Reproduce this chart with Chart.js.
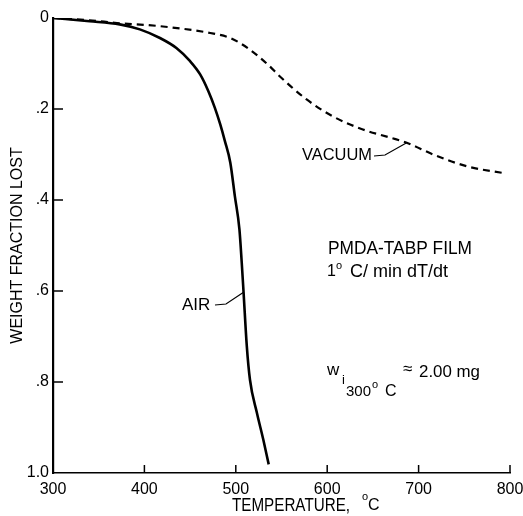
<!DOCTYPE html>
<html>
<head>
<meta charset="utf-8">
<script src="https://cdn.jsdelivr.net/npm/chart.js@4.4.1/dist/chart.umd.min.js"></script>
<style>
  html, body { margin: 0; padding: 0; background: #fff; }
  #wrap { width: 523px; height: 516px; }
</style>
</head>
<body>
<div id="wrap"><canvas id="tga"></canvas></div>
<script>
// TGA of PMDA-TABP film: weight fraction lost vs temperature, air vs vacuum.
const FONT = '"Liberation Sans", Arial, sans-serif';

const airTemp = [300, 340, 373, 395, 417, 435, 450, 461, 470, 477, 483, 488, 494, 499, 504, 506.5, 508.5, 512, 515.5, 523, 530, 536];
const airLoss = [0, 0.007, 0.014, 0.025, 0.044, 0.066, 0.095, 0.124, 0.161, 0.197, 0.234, 0.27, 0.318, 0.392, 0.465, 0.538, 0.603, 0.72, 0.795, 0.867, 0.926, 0.981];

const vacTemp = [300, 340, 370, 417, 472, 494, 515, 537, 548, 577.5, 606, 639, 669, 687, 716, 753, 796];
const vacLoss = [0, 0.005, 0.011, 0.018, 0.033, 0.044, 0.069, 0.106, 0.128, 0.179, 0.216, 0.245, 0.263, 0.274, 0.3, 0.326, 0.342];

const xTicks = [300, 400, 500, 600, 700, 800];
const yTicks = [0, 0.2, 0.4, 0.6, 0.8, 1.0];

const toPoints = (xs, ys) => xs.map((x, i) => ({ x, y: ys[i] }));

// inward tick marks (the axes have their ticks on the plot side)
const innerTicks = {
  id: "innerTicks",
  afterDraw(chart) {
    const { ctx, chartArea: a, scales: { x, y } } = chart;
    ctx.save();
    ctx.strokeStyle = "#000";
    ctx.lineWidth = 1.5;
    for (const v of yTicks.slice(1, -1)) {
      const py = y.getPixelForValue(v);
      ctx.beginPath(); ctx.moveTo(a.left, py); ctx.lineTo(a.left + 10, py); ctx.stroke();
    }
    for (const v of xTicks.slice(1)) {
      const px = x.getPixelForValue(v);
      ctx.beginPath(); ctx.moveTo(px, a.bottom); ctx.lineTo(px, a.bottom - 8); ctx.stroke();
    }
    ctx.restore();
  },
};

// maxW squeezes the longer strings to the narrow typewriter look
function txt(ctx, s, x, y, size, maxW) {
  ctx.font = `${size}px ${FONT}`;
  if (maxW) ctx.fillText(s, x, y, maxW);
  else ctx.fillText(s, x, y);
}

// labels, leaders and the film note
const notes = {
  id: "notes",
  afterDraw(chart) {
    const { ctx, scales: { x, y } } = chart;
    const X = (v) => x.getPixelForValue(v);
    const Y = (v) => y.getPixelForValue(v);
    ctx.save();
    ctx.fillStyle = "#000";
    ctx.strokeStyle = "#000";
    ctx.lineWidth = 1.2;
    ctx.textBaseline = "middle";
    ctx.textAlign = "left";

    txt(ctx, "AIR", 182, 305, 17, 30);
    ctx.beginPath(); ctx.moveTo(215, 305); ctx.lineTo(226, 304); ctx.lineTo(X(508.5), Y(0.603)); ctx.stroke();

    txt(ctx, "VACUUM", 302, 155, 17, 70);
    ctx.beginPath(); ctx.moveTo(374, 156); ctx.lineTo(385, 155); ctx.lineTo(X(687), Y(0.274)); ctx.stroke();

    txt(ctx, "PMDA-TABP FILM", 328, 249, 18, 144);
    txt(ctx, "1", 327, 272, 16);
    txt(ctx, "o", 336, 266, 11);
    txt(ctx, "C/ min dT/dt", 350, 272, 18, 100);

    txt(ctx, "w", 327, 370, 17);
    txt(ctx, "i", 342, 380, 13);
    txt(ctx, "300", 346, 392, 15);
    txt(ctx, "o", 372, 385, 11);
    txt(ctx, "C", 385, 392, 16);
    txt(ctx, "\u2248", 403, 369, 17);
    txt(ctx, "2.00 mg", 419, 372, 17, 61);

    // x-axis title
    txt(ctx, "TEMPERATURE,", 232, 506, 18, 118);
    txt(ctx, "o", 362, 497, 11);
    txt(ctx, "C", 368, 506, 16);
    ctx.restore();
  },
};

new Chart(document.getElementById("tga"), {
  type: "line",
  data: {
    datasets: [
      {
        label: "AIR",
        data: toPoints(airTemp, airLoss),
        borderColor: "#000",
        borderWidth: 2.6,
        pointRadius: 0,
        cubicInterpolationMode: "monotone",
      },
      {
        label: "VACUUM",
        data: toPoints(vacTemp, vacLoss),
        borderColor: "#000",
        borderWidth: 2.2,
        borderDash: [7, 5],
        pointRadius: 0,
        cubicInterpolationMode: "monotone",
      },
    ],
  },
  options: {
    responsive: true,
    maintainAspectRatio: false,
    animation: false,
    layout: { padding: { top: 18, right: 0, left: 0, bottom: 0 } },
    plugins: { legend: { display: false }, tooltip: { enabled: false } },
    scales: {
      x: {
        type: "linear",
        min: 300,
        max: 800,
        afterFit: (s) => { s.height = 43; s.paddingRight = 13; },
        afterBuildTicks: (s) => { s.ticks = xTicks.map((v) => ({ value: v })); },
        grid: { display: false, drawTicks: false },
        border: { display: true, color: "#000", width: 1.6 },
        ticks: { color: "#000", padding: 7, maxRotation: 0, font: { family: FONT, size: 16 } },
      },
      y: {
        type: "linear",
        min: 0,
        max: 1,
        reverse: true,
        afterFit: (s) => { s.width = 53; },
        afterBuildTicks: (s) => { s.ticks = yTicks.map((v) => ({ value: v })); },
        grid: { display: false, drawTicks: false },
        border: { display: true, color: "#000", width: 2.2 },
        ticks: {
          color: "#000",
          padding: 4,
          font: { family: FONT, size: 16 },
          callback: (v) => {
            const t = Math.round(v * 10);
            if (t === 0) return "0";
            if (t === 10) return "1.0";
            return "." + t;
          },
        },
        title: {
          display: true,
          text: "WEIGHT FRACTION LOST",
          color: "#000",
          padding: { top: 8, bottom: 0 },
          font: { family: FONT, size: 16 },
        },
      },
    },
  },
  plugins: [innerTicks, notes],
});
</script>
</body>
</html>
